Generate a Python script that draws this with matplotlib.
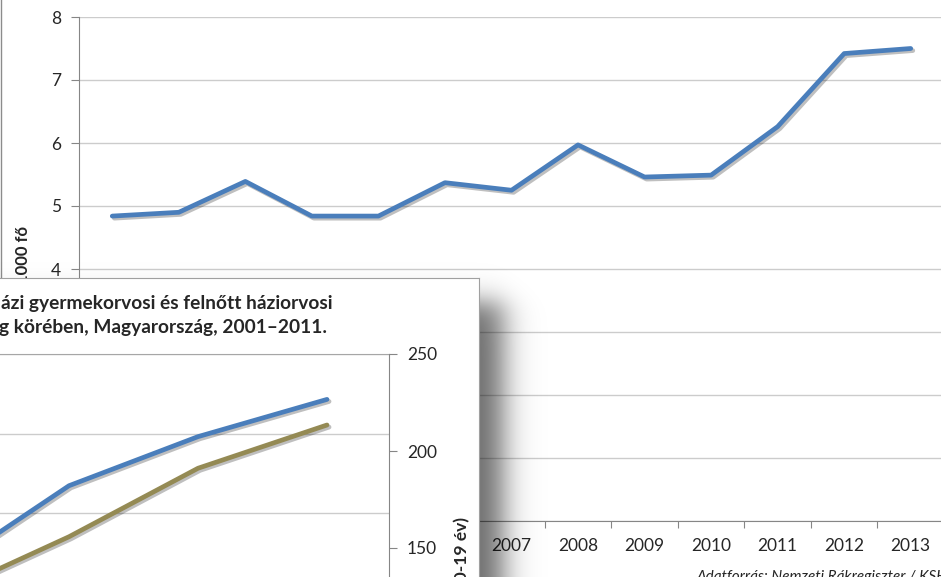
import numpy as np
import matplotlib
matplotlib.use('Agg')
import matplotlib.pyplot as plt
import matplotlib.patheffects as pe
from matplotlib.lines import Line2D

plt.rcParams['font.family'] = ['Lato', 'DejaVu Sans']

# back chart: cases per year (1000 persons)
years = [2001, 2002, 2003, 2004, 2005, 2006, 2007, 2008, 2009, 2010, 2011, 2012, 2013]
cases = [4.84, 4.90, 5.39, 4.84, 4.84, 5.37, 5.25, 5.97, 5.46, 5.49, 6.26, 7.42, 7.50]

# front chart (right axis, 0-19 years)
front_years = [2005, 2007, 2009, 2011]
gyermek = [137.6, 182.1, 207.4, 226.6]
felnott = [125.3, 155.8, 191.1, 213.4]

title_lines = ['ázi gyermekorvosi és felnőtt háziorvosi',
               'g körében, Magyarország, 2001–2011.']
source = 'Adatforrás: Nemzeti Rákregiszter / KSH'

W, H = 941, 577
BLUE = '#4a7ebb'
OLIVE = '#948a54'
TXT = '#262626'
AXC = '#868686'
GRID = '#cccccc'


def box(l, t, r, b):
    return [l / W, 1 - b / H, (r - l) / W, (b - t) / H]


def px(x, y):
    return x / W, 1 - y / H


shadow_fx = [pe.SimpleLineShadow(offset=(1.5, -1.5), shadow_color='k', alpha=0.25), pe.Normal()]

fig = plt.figure(figsize=(W / 100, H / 100), dpi=100)

# ---- back chart ----
ax = fig.add_axes(box(79, 17, 944, 521))
ax.plot(years, cases, color=BLUE, lw=3.4, solid_capstyle='round', path_effects=shadow_fx)
ax.set_xlim(2000.5, 2013.5)
ax.set_ylim(0, 8)
ax.set_yticks(range(0, 9))
# labels under the front panel are covered anyway
ax.set_yticklabels([str(v) if v >= 4 else '' for v in range(0, 9)])
ax.grid(axis='y', color=GRID, lw=1)
ax.set_axisbelow(True)
ax.set_xticks(np.arange(2000.5, 2014, 1))
ax.set_xticklabels([])
ax.set_xticks(years, minor=True)
ax.set_xticklabels([str(y) if y >= 2007 else '' for y in years], minor=True)
ax.tick_params(axis='x', which='major', length=5, color=AXC)
ax.tick_params(axis='x', which='minor', length=0, pad=12, labelsize=12.5, labelcolor=TXT)
ax.tick_params(axis='y', length=6, color=AXC, pad=7, labelsize=12.5, labelcolor=TXT)
for s in ['top', 'right']:
    ax.spines[s].set_visible(False)
for s in ['left', 'bottom']:
    ax.spines[s].set_color(AXC)

fig.text(*px(23, 226), '1000 fő', rotation=90, ha='center', va='top',
         fontsize=12, fontweight='bold', color=TXT)
fig.add_artist(Line2D([0.6 / W, 0.6 / W], [1 - 278 / H, 1], color='#8c8c8c', lw=1))

fig.text(*px(697, 570), source, style='italic', ha='left', va='top',
         fontsize=11, color=TXT, zorder=3)

# ---- drop shadow of the front panel ----
sh = fig.add_axes([0, 0, 1, 1], zorder=9)
sh.axis('off')
xx, yy = np.meshgrid(np.arange(W) + 0.5, np.arange(H) + 0.5)
sx = 1 / (1 + np.exp((xx - 503) / 9))
sy = 1 / (1 + np.exp(-(yy - 302) / 8))
rgba = np.zeros((H, W, 4))
rgba[..., 3] = 0.58 * sx * sy
sh.imshow(rgba, extent=(0, W, H, 0), aspect='auto', interpolation='bilinear')
sh.set_xlim(0, W)
sh.set_ylim(H, 0)

# ---- front panel ----
panel = fig.add_axes(box(-10, 278, 479, 590), zorder=10)
panel.set_xticks([])
panel.set_yticks([])
panel.set_facecolor('white')
for s in panel.spines.values():
    s.set_color('#a0a0a0')

fig.text(*px(1, 303), title_lines[0], ha='left', va='center', fontsize=13.8,
         fontweight='bold', color=TXT, zorder=12)
fig.text(*px(-1, 328), title_lines[1], ha='left', va='center', fontsize=13.8,
         fontweight='bold', color=TXT, zorder=12)

fa = fig.add_axes(box(-20, 354, 389, 620), zorder=11)
fa.set_facecolor('none')
fa.set_xlim(2011 - 347 / 64.5, 2011 + 62 / 64.5)
fa.set_ylim(3 - 266 / 79.5, 3)
fa.set_yticks([1, 2, 3])
fa.set_yticklabels([])
fa.set_xticks([])
fa.tick_params(axis='y', length=0)
fa.grid(axis='y', color=GRID, lw=1)
for s in ['left', 'right', 'bottom']:
    fa.spines[s].set_visible(False)
fa.spines['top'].set_color('#a6a6a6')

fb = fa.twinx()
fb.set_zorder(11.5)
fb.patch.set_visible(False)
fb.plot(front_years, gyermek, color=BLUE, lw=3.4, solid_capstyle='round', path_effects=shadow_fx)
fb.plot(front_years, felnott, color=OLIVE, lw=3.4, solid_capstyle='round', path_effects=shadow_fx)
fb.set_ylim(250 - 266 / 1.94, 250)
fb.set_yticks([150, 200, 250])
fb.tick_params(axis='y', length=6, color=AXC, pad=7, labelsize=12.5, labelcolor=TXT)
for s in ['left', 'top', 'bottom']:
    fb.spines[s].set_visible(False)
fb.spines['right'].set_color(AXC)

fig.text(*px(462, 517), '(0-19 év)', rotation=90, ha='center', va='top',
         fontsize=12.5, fontweight='bold', color=TXT, zorder=12)

fig.savefig('out.png', dpi=100)
